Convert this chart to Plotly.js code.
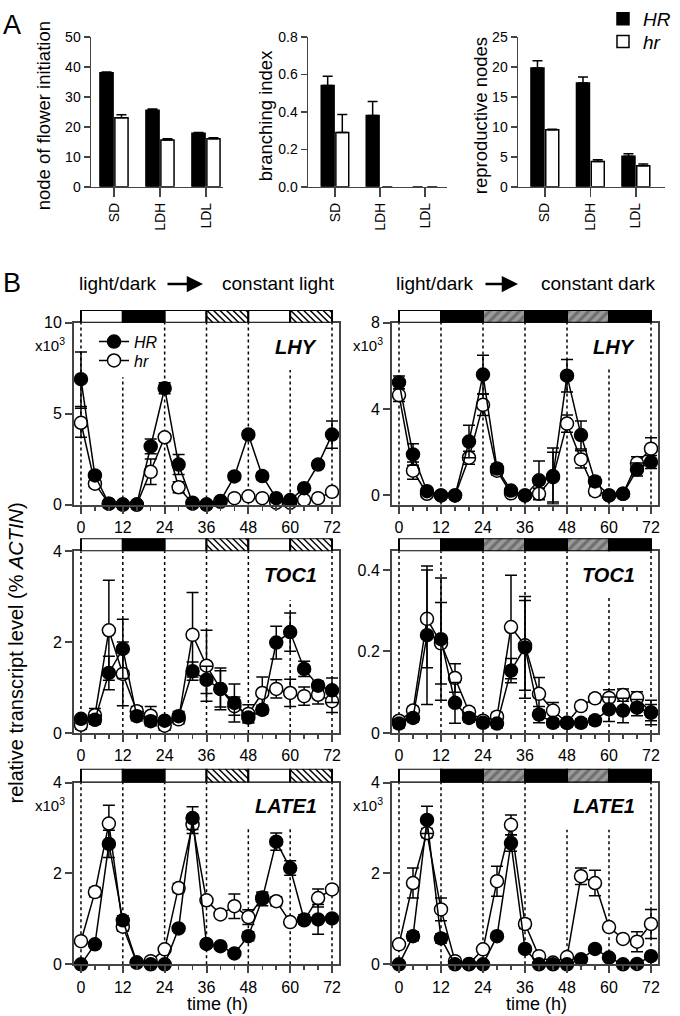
<!DOCTYPE html>
<html><head><meta charset="utf-8">
<script src="https://cdn.plot.ly/plotly-3.0.1.min.js"></script>
<style>html,body{margin:0;padding:0;background:#fff}#chart{width:680px;height:1016px}</style>
</head><body><div id="chart"></div>
<script>
// ---------- Panel A data ----------
const conditions = ['SD', 'LDH', 'LDL'];
const nodeHR = [38, 25.5, 17.8];
const nodeHRerr = [0.3, 0.4, 0.3];
const nodeHr = [23, 15.6, 16];
const nodeHrErr = [1.0, 0.4, 0.3];
const branchHR = [0.54, 0.38, 0];
const branchHRerr = [0.05, 0.075, 0];
const branchHr = [0.29, 0, 0];
const branchHrErr = [0.095, 0, 0];
const reproHR = [19.8, 17.3, 5.1];
const reproHRerr = [1.2, 1.0, 0.4];
const reproHr = [9.5, 4.2, 3.5];
const reproHrErr = [0.1, 0.3, 0.3];

// ---------- Panel B data ----------
const time = [0,4,8,12,16,20,24,28,32,36,40,44,48,52,56,60,64,68,72];
const lightStarts = [0, 12, 24, 36, 48, 60];
const regimeLL = ['light','dark','light','subjective night','light','subjective night'];
const regimeDD = ['light','dark','subjective day','dark','subjective day','dark'];

const lhyLL_HR  = [6.9,1.6,0.05,0,0,3.2,6.4,2.2,0.1,0,0.2,1.55,3.85,1.57,0.35,0.25,0.9,2.2,3.85];
const lhyLL_HRe = [1.5,0.2,0,0,0,0.4,0.3,0.55,0,0,0,0.2,0.2,0.2,0.1,0.1,0.1,0.2,0.75];
const lhyLL_hr  = [4.5,1.15,0.05,0,0,1.8,3.7,0.95,0.05,0,0.15,0.35,0.45,0.35,0.1,0.1,0.25,0.35,0.7];
const lhyLL_hre = [0.8,0.15,0,0,0,0.7,0.2,0.3,0,0,0,0.1,0.1,0.1,0.1,0.05,0.1,0.1,0.15];

const lhyDD_HR  = [5.24,1.9,0.2,0,0,2.5,5.6,1.25,0.23,0,0.7,0.9,5.55,2.8,0.65,0,0.08,1.2,1.55];
const lhyDD_HRe = [0.3,0.5,0.1,0,0,0.75,0.9,0.2,0.1,0,0.9,1.3,0.75,0.65,0.2,0,0.05,0.3,0.3];
const lhyDD_hr  = [4.65,1.15,0.08,0,0,1.75,4.2,1.15,0.1,0,0.08,0.85,3.33,1.67,0.2,0,0.08,1.5,2.17];
const lhyDD_hre = [0.3,0.4,0.1,0,0,0.3,0.5,0.2,0.1,0,0.25,1.15,0.4,0.4,0.2,0,0.05,0.3,0.5];

const tocLL_HR  = [0.31,0.29,1.32,1.85,0.37,0.26,0.27,0.37,1.36,1.17,0.97,0.66,0.34,0.51,1.99,2.22,1.41,1.04,0.94];
const tocLL_HRe = [0.05,0.1,0.37,0.65,0.1,0.1,0.05,0.1,0.2,0.3,0.46,0.42,0.1,0.1,0.36,0.42,0.17,0.1,0.27];
const tocLL_hr  = [0.18,0.39,2.26,1.3,0.48,0.38,0.16,0.3,2.16,1.48,0.97,0.59,0.42,0.88,0.97,0.88,0.81,0.84,0.7];
const tocLL_hre = [0.1,0.15,1.1,0.7,0.1,0.2,0.1,0.1,0.93,0.78,0.4,0.2,0.2,0.35,0.2,0.3,0.2,0.2,0.25];

const tocDD_HR  = [0.023,0.037,0.24,0.23,0.074,0.037,0.025,0.023,0.153,0.21,0.045,0.025,0.025,0.025,0.031,0.058,0.055,0.062,0.05];
const tocDD_HRe = [0.01,0.01,0.17,0.15,0.05,0.01,0.01,0.01,0.03,0.125,0.02,0.01,0.01,0.01,0.01,0.03,0.03,0.02,0.02];
const tocDD_hr  = [0.03,0.055,0.28,0.22,0.135,0.052,0.03,0.04,0.26,0.215,0.096,0.055,0.025,0.066,0.085,0.086,0.093,0.086,0.05];
const tocDD_hre = [0.01,0.01,0.12,0.1,0.035,0.01,0.01,0.01,0.127,0.11,0.04,0.02,0.01,0.01,0.01,0.02,0.015,0.015,0.03];

const lateLL_HR  = [0,0.44,2.65,0.97,0.04,0,0,0.79,3.22,0.45,0.4,0.24,0.62,1.44,2.7,2.12,0.99,0.99,1.01];
const lateLL_HRe = [0,0.05,0.3,0.1,0.02,0.02,0.02,0.05,0.25,0.05,0.05,0.05,0.1,0.15,0.19,0.16,0.1,0.33,0.05];
const lateLL_hr  = [0.51,1.59,3.1,0.83,0.04,0.07,0.33,1.68,3.08,1.41,1.1,1.28,1.04,1.47,1.39,0.93,0.97,1.46,1.65];
const lateLL_hre = [0.05,0.1,0.4,0.1,0.02,0.02,0.05,0.1,0.2,0.05,0.05,0.27,0.16,0.1,0.1,0.05,0.05,0.2,0.05];

const lateDD_HR  = [0,0.62,3.18,0.57,0,0,0,0.62,2.67,0.34,0,0,0,0.11,0.34,0.15,0,0.01,0.18];
const lateDD_HRe = [0,0.1,0.3,0.1,0,0,0,0.05,0.18,0.05,0,0,0,0.02,0.05,0.03,0,0,0.05];
const lateDD_hr  = [0.44,1.79,2.89,1.21,0.07,0.01,0.33,1.83,3.07,0.89,0.18,0.04,0.16,1.94,1.79,0.82,0.56,0.5,0.89];
const lateDD_hre = [0.05,0.33,0.1,0.25,0.02,0.02,0.05,0.33,0.22,0.1,0.03,0.02,0.03,0.18,0.28,0.05,0.05,0.22,0.32];

// ---------- layout helpers ----------
const W = 680, H = 1016;
const fx = p => p / W, fy = p => 1 - p / H;
const FONT = '"Liberation Sans", Arial, Helvetica, sans-serif';
const legendBase = {xanchor:'left', yanchor:'middle', bgcolor:'rgba(0,0,0,0)', itemwidth:30, tracegroupgap:0};

const layout = {
  width: W, height: H, margin: {l:0, r:0, t:0, b:0},
  paper_bgcolor: 'white', plot_bgcolor: 'rgba(0,0,0,0)',
  font: {family: FONT, color: 'black', size: 15},
  barmode: 'group', bargap: 0.35, bargroupgap: 0.12,
  annotations: [], shapes: [],
  // B legend (two single-entry legends for exact spacing)
  legend:  Object.assign({x: fx(94), y: fy(337), font:{size:16, family:FONT}}, legendBase),
  legend3: Object.assign({x: fx(94), y: fy(356), font:{size:16, family:FONT}}, legendBase),
  // A legend
  legend2: Object.assign({x: fx(603), y: fy(12), font:{size:19, family:FONT}}, legendBase),
  legend4: Object.assign({x: fx(603), y: fy(35), font:{size:19, family:FONT}}, legendBase)
};
const traces = [];
const nz = arr => arr.map(v => v > 0 ? v : null);

// ---------- Panel A ----------
const aPanels = [
  {n:1, xd:[91,223], xr:[-0.5,2.37], yr:[0,50], dtick:10, HR:nodeHR, HRe:nodeHRerr, hr:nodeHr, hre:nodeHrErr, title:'node of flower initiation', tx:43},
  {n:2, xd:[308,447], xr:[-0.6,2.49], yr:[0,0.8], dtick:0.2, HR:branchHR, HRe:branchHRerr, hr:branchHr, hre:branchHrErr, title:'branching index', tx:265, fmt:'.1f'},
  {n:3, xd:[518,665], xr:[-0.59,2.64], yr:[0,25], dtick:5, HR:reproHR, HRe:reproHRerr, hr:reproHr, hre:reproHrErr, title:'reproductive nodes', tx:480}
];
aPanels.forEach(p => {
  const s = p.n === 1 ? '' : String(p.n);
  layout['xaxis' + s] = {domain:[fx(p.xd[0]), fx(p.xd[1])], range:p.xr, anchor:'y' + s,
    tickvals:[0,1,2], ticktext:conditions, tickangle:-90, ticks:'outside', ticklen:9, tickwidth:1.5,
    showline:true, linewidth:1.5, showgrid:false, zeroline:false, tickfont:{size:14}, fixedrange:true};
  layout['yaxis' + s] = {domain:[fy(181), fy(30)], range:p.yr, anchor:'x' + s, tick0:0, dtick:p.dtick,
    tickformat:p.fmt || '', ticks:'outside', ticklen:6, tickwidth:1.5, showline:true, linewidth:1.5,
    showgrid:false, zeroline:false, tickfont:{size:14}, fixedrange:true};
  const xs = [0,1,2];
  traces.push({type:'bar', x:xs, y:p.HR, xaxis:'x'+s, yaxis:'y'+s, name:'<i>HR</i>', legend:'legend2',
    showlegend:p.n===1, marker:{color:'black', line:{color:'black', width:p.HR.map(v => v > 0 ? 1.5 : 0)}},
    error_y:{type:'data', array:nz(p.HRe), arrayminus:[0,0,0], symmetric:false, color:'black', thickness:1.5, width:5}});
  traces.push({type:'bar', x:xs, y:p.hr, xaxis:'x'+s, yaxis:'y'+s, name:'<i>hr</i>', legend:'legend4',
    showlegend:p.n===1, marker:{color:'white', line:{color:'black', width:p.hr.map(v => v > 0 ? 1.5 : 0)}},
    error_y:{type:'data', array:nz(p.hre), arrayminus:[0,0,0], symmetric:false, color:'black', thickness:1.5, width:5}});
  layout.annotations.push({text:p.title, x:fx(p.tx), y:fy(110), xref:'paper', yref:'paper', showarrow:false,
    textangle:-90, font:{size:18.5}, xanchor:'center', yanchor:'middle'});
});
layout.annotations.push({text:'A', x:fx(1), y:fy(18), xref:'paper', yref:'paper', showarrow:false, font:{size:27}, xanchor:'left', yanchor:'middle'});
layout.annotations.push({text:'B', x:fx(1), y:fy(278), xref:'paper', yref:'paper', showarrow:false, font:{size:27}, xanchor:'left', yanchor:'middle'});

// ---------- Panel B ----------
const colX = [[74,339],[392,658]];
const rowY = [[318,501],[548,731],[781,964]];
const stripY = [[305,318],[535,548],[767,781]];
const bPanels = [
  {id:4, c:0, r:0, gene:'LHY', HR:lhyLL_HR, HRe:lhyLL_HRe, hr:lhyLL_hr, hre:lhyLL_hre, yr:[0,10], tv:[0,5,10], x103:true, regime:regimeLL, partial:{12:0.70, 60:0.74}, legend:true},
  {id:5, c:1, r:0, gene:'LHY', HR:lhyDD_HR, HRe:lhyDD_HRe, hr:lhyDD_hr, hre:lhyDD_hre, yr:[-0.42,8], tv:[0,4,8], x103:true, regime:regimeDD, partial:{60:0.75}},
  {id:6, c:0, r:1, gene:'TOC1', HR:tocLL_HR, HRe:tocLL_HRe, hr:tocLL_hr, hre:tocLL_hre, yr:[0,4], tv:[0,2,4], regime:regimeLL, partial:{60:0.73}},
  {id:7, c:1, r:1, gene:'TOC1', HR:tocDD_HR, HRe:tocDD_HRe, hr:tocDD_hr, hre:tocDD_hre, yr:[0,0.446], tv:[0,0.2,0.4], regime:regimeDD, partial:{60:0.75}},
  {id:8, c:0, r:2, gene:'LATE1', HR:lateLL_HR, HRe:lateLL_HRe, hr:lateLL_hr, hre:lateLL_hre, yr:[0,4], tv:[0,2,4], x103:true, regime:regimeLL, partial:{48:0.76, 60:0.76}, xtitle:true},
  {id:9, c:1, r:2, gene:'LATE1', HR:lateDD_HR, HRe:lateDD_HRe, hr:lateDD_hr, hre:lateDD_hre, yr:[0,4], tv:[0,2,4], x103:true, regime:regimeDD, partial:{48:0.74, 60:0.74}, xtitle:true}
];
const regimeStyle = {
  'light': {color:'white', shape:'', fg:'black'},
  'dark': {color:'black', shape:'', fg:'black'},
  'subjective night': {color:'white', shape:'', fg:'black', hatch:true},
  'subjective day': {color:'#9a9a9a', shape:'/', fg:'#404040'}
};
bPanels.forEach((p, i) => {
  const s = String(p.id), ss = String(10 + i);
  const xd = colX[p.c], yd = rowY[p.r], sd = stripY[p.r];
  layout['xaxis' + s] = {domain:[fx(xd[0]), fx(xd[1])], range:[-2,74], anchor:'y' + s, tick0:0, dtick:12,
    ticks:'outside', ticklen:7, tickwidth:2, minor:{tick0:0, dtick:4, ticks:'outside', ticklen:4, tickwidth:1.5},
    showline:true, linewidth:2, mirror:true, showgrid:false, zeroline:false, tickfont:{size:16}, fixedrange:true};
  layout['yaxis' + s] = {domain:[fy(yd[1]), fy(yd[0])], range:p.yr, anchor:'x' + s, tickvals:p.tv,
    ticks:'outside', ticklen:7, tickwidth:2, showline:true, linewidth:2, mirror:true,
    showgrid:false, zeroline:false, tickfont:{size:16}, fixedrange:true};
  // light regime strip
  layout['xaxis' + ss] = {domain:[fx(xd[0]), fx(xd[1])], range:[-2,74], anchor:'y' + ss, visible:false, fixedrange:true};
  layout['yaxis' + ss] = {domain:[fy(sd[1]), fy(sd[0])], range:[0,1], anchor:'x' + ss, visible:false, fixedrange:true};
  const st = p.regime.map(r => regimeStyle[r]);
  traces.push({type:'bar', x:lightStarts.map(v => v + 6), y:lightStarts.map(() => 1), width:lightStarts.map(() => 12),
    xaxis:'x' + ss, yaxis:'y' + ss, showlegend:false, hoverinfo:'skip',
    marker:{color:st.map(o => o.color), line:{color:'black', width:2},
      pattern:{shape:st.map(o => o.shape), fgcolor:st.map(o => o.fg), fillmode:'overlay', size:7, solidity:0.45}}});
  // backslash hatching for subjective-night segments (built from the regime list)
  const pxPerH = (xd[1] - xd[0]) / 76, stripH = sd[1] - sd[0];
  const dx = stripH / pxPerH, step = 6.5 / pxPerH;
  const hx = [], hy = [];
  lightStarts.forEach((a, k) => {
    if (!st[k].hatch) return;
    const b = a + 12;
    for (let x0 = a - dx; x0 < b; x0 += step) {
      const t0 = Math.max(0, (a - x0) / dx), t1 = Math.min(1, (b - x0) / dx);
      if (t1 <= t0) continue;
      hx.push(x0 + dx * t0, x0 + dx * t1, null);
      hy.push(1 - t0, 1 - t1, null);
    }
  });
  if (hx.length) traces.push({type:'scatter', mode:'lines', x:hx, y:hy, xaxis:'x' + ss, yaxis:'y' + ss,
    showlegend:false, hoverinfo:'skip', line:{color:'black', width:1.4}});
  // dashed lines
  [0,12,24,36,48,60,72].forEach(t => {
    const top = p.partial[t] !== undefined ? p.partial[t] : 1;
    layout.shapes.push({type:'line', xref:'x' + s, yref:'y' + s + ' domain', x0:t, x1:t, y0:0, y1:top,
      line:{color:'black', width:1.5, dash:'3px,3px'}, layer:'below'});
  });
  const mk = (name, y, e, fill, lg) => ({type:'scatter', mode:'lines+markers', x:time, y:y,
    xaxis:'x' + s, yaxis:'y' + s, name:name, legend:lg, showlegend:!!p.legend,
    cliponaxis:false,
    line:{color:'black', width:1.5},
    marker:{size:13, color:fill, line:{color:'black', width:1.5}},
    error_y:{type:'data', array:e, symmetric:true, color:'black', thickness:1.5, width:6}});
  traces.push(mk('<i>hr</i>', p.hr, p.hre, 'white', 'legend3'));
  traces.push(mk('<i>HR</i>', p.HR, p.HRe, 'black', 'legend'));
  // gene label
  layout.annotations.push({text:'<b><i>' + p.gene + '</i></b>', xref:'paper', yref:'paper',
    x:fx(xd[0] + 245), y:fy(yd[0] + 24), xanchor:'right', yanchor:'middle', showarrow:false, font:{size:20}});
  if (p.x103) {
    layout.annotations.push({text:'x10<sup>3</sup>', xref:'paper', yref:'paper', x:fx(xd[0] - 24), y:fy(yd[0] + 22),
      xanchor:'center', yanchor:'middle', showarrow:false, font:{size:15}});
  }
  if (p.xtitle) {
    layout.annotations.push({text:'time (h)', xref:'paper', yref:'paper', x:fx((xd[0] + xd[1]) / 2 + 11), y:fy(1004),
      xanchor:'center', yanchor:'middle', showarrow:false, font:{size:18}});
  }
});

// headings
const headings = [
  {left:'light/dark', right:'constant light', lx:118, rx:278, a0:166, a1:203},
  {left:'light/dark', right:'constant dark', lx:435, rx:598, a0:484, a1:518}
];
headings.forEach(h => {
  layout.annotations.push({text:h.left, xref:'paper', yref:'paper', x:fx(h.lx), y:fy(278), showarrow:false, font:{size:19}, xanchor:'center', yanchor:'middle'});
  layout.annotations.push({text:h.right, xref:'paper', yref:'paper', x:fx(h.rx), y:fy(278), showarrow:false, font:{size:19}, xanchor:'center', yanchor:'middle'});
  layout.annotations.push({text:'', xref:'paper', yref:'paper', x:fx(h.a1), y:fy(279), ax:-(h.a1 - h.a0), ay:0,
    showarrow:true, arrowhead:2, arrowsize:1.3, arrowwidth:2.5, arrowcolor:'black'});
});
layout.annotations.push({text:'relative transcript level (% <i>ACTIN</i>)', xref:'paper', yref:'paper', x:fx(16), y:fy(651),
  textangle:-90, showarrow:false, font:{size:20}, xanchor:'center', yanchor:'middle'});

Plotly.newPlot('chart', traces, layout, {displayModeBar:false, staticPlot:true});
</script></body></html>
